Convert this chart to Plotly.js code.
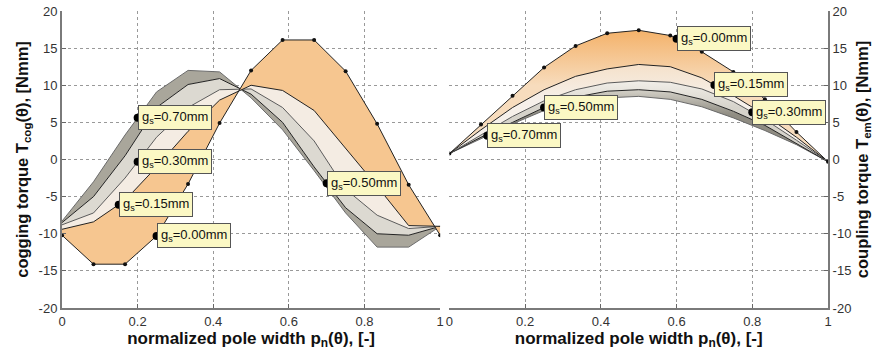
<!DOCTYPE html>
<html>
<head>
<meta charset="utf-8">
<script src="https://cdn.plot.ly/plotly-3.0.1.min.js"></script>
<style>html,body{margin:0;padding:0;background:#fff;}#chart{width:873px;height:354px;}</style>
</head>
<body>
<div id="chart"></div>
<script>
// sample positions (normalized pole width)
const xs = [0, 0.0833, 0.1667, 0.25, 0.3333, 0.4167, 0.5, 0.5833, 0.6667, 0.75, 0.8333, 0.9167, 1];
const gapNames = ['0.70', '0.50', '0.30', '0.15', '0.00'];

// cogging torque [Nmm]
const cog070 = [-8.3, -3.0, 3.3, 9.1, 12.0, 11.8, 8.3, 4.0, -1.5, -7.2, -11.8, -11.8, -9.0];
const cog050 = [-8.5, -5.0, 0.5, 7.0, 10.1, 10.9, 8.8, 5.0, -1.0, -6.5, -10.0, -10.2, -9.0];
const cog030 = [-8.8, -7.2, -2.5, 3.0, 7.0, 9.4, 9.5, 7.0, 2.5, -4.0, -7.5, -9.3, -9.0];
const cog015 = [-9.4, -8.4, -5.5, -1.0, 3.8, 8.0, 10.0, 9.3, 6.6, 1.5, -3.6, -8.9, -9.0];
const cog000 = [-10.2, -14.1, -14.1, -10.3, -3.3, 4.9, 12.0, 16.1, 16.1, 11.9, 4.8, -3.4, -10.2];

// coupling torque [Nmm]
const em070 = [0.8, 2.8, 4.8, 6.6, 7.8, 8.3, 8.5, 8.1, 7.1, 5.6, 3.9, 2.0, -0.3];
const em050 = [0.8, 3.0, 5.0, 7.0, 8.4, 9.2, 9.4, 9.1, 8.1, 6.5, 4.6, 2.2, -0.3];
const em030 = [0.8, 3.3, 5.8, 7.9, 9.4, 10.3, 10.6, 10.4, 9.5, 7.8, 5.4, 2.6, -0.3];
const em015 = [0.8, 4.0, 7.0, 9.4, 11.2, 12.2, 12.8, 12.5, 11.0, 8.6, 6.0, 3.0, -0.3];
const em000 = [0.8, 4.7, 8.6, 12.4, 15.3, 17.0, 17.4, 16.7, 14.5, 11.8, 8.1, 3.7, -0.3];

// data-tip positions (x) for each gap, order as gapNames
const cogTipX = [0.2, 0.7, 0.2, 0.15, 0.25];
const emTipX = [0.1, 0.25, 0.8, 0.7, 0.6];

const xTickVals = [0, 0.2, 0.4, 0.6, 0.8, 1];
const xTickText = ['0', '0.2', '0.4', '0.6', '0.8', '1'];
const yTickVals = [-20, -15, -10, -5, 0, 5, 10, 15, 20];
const yTickText = ['-20', '-15', '-10', '-5', '0', '5', '10', '15', '20'];

const FONT = 'Liberation Sans, Arial, sans-serif';
const lineColors = ['#6a6a6a', '#222222', '#5a5a5a', '#222222', '#222222'];
const fillColors = [null, '#a9a69b', '#dcd9d1', '#f4ece3', '#f6c690'];

function interp(xa, ya, x) {
  for (let i = 0; i < xa.length - 1; i++) {
    if (x >= xa[i] && x <= xa[i + 1]) {
      const t = (x - xa[i]) / (xa[i + 1] - xa[i]);
      return ya[i] + t * (ya[i + 1] - ya[i]);
    }
  }
  return ya[ya.length - 1];
}

const traces = [];
const annotations = [];
function addPanel(series, tipX, xa, ya, gradients) {
  series.forEach((ys, i) => {
    const tr = {
      x: xs, y: ys, xaxis: xa, yaxis: ya, type: 'scatter',
      mode: i === 4 ? 'lines+markers' : 'lines',
      line: {color: lineColors[i], width: 1},
      marker: {color: '#111', size: 4},
      showlegend: false, hoverinfo: 'skip'
    };
    if (i > 0) {
      tr.fill = 'tonexty'; tr.fillcolor = fillColors[i];
      if (gradients && gradients[i]) tr.fillgradient = gradients[i];
    }
    traces.push(tr);
  });
  const tx = [], ty = [];
  series.forEach((ys, i) => {
    const yv = interp(xs, ys, tipX[i]);
    tx.push(tipX[i]); ty.push(yv);
    annotations.push({
      x: tipX[i], y: yv, xref: xa, yref: ya, xanchor: 'left', yanchor: 'middle',
      showarrow: false, text: 'g<sub>s</sub>=' + gapNames[i] + 'mm',
      bgcolor: '#fbf8c4', bordercolor: '#555', borderwidth: 1, borderpad: 3,
      font: {family: FONT, size: 13, color: '#111'}
    });
  });
  traces.push({x: tx, y: ty, xaxis: xa, yaxis: ya, type: 'scatter', mode: 'markers',
    marker: {color: '#000', size: 8}, showlegend: false, hoverinfo: 'skip'});
}
addPanel([cog070, cog050, cog030, cog015, cog000], cogTipX, 'x', 'y', null);
addPanel([em070, em050, em030, em015, em000], emTipX, 'x2', 'y2', [
  null,
  {type: 'vertical', start: 6, stop: 9.5, colorscale: [[0, '#8f8c82'], [1, '#d6d3ca']]},
  {type: 'vertical', start: 7, stop: 10.5, colorscale: [[0, '#d6d3cb'], [1, '#f1eee8']]},
  {type: 'vertical', start: 8, stop: 12.5, colorscale: [[0, '#f6f0ea'], [1, '#f5e2cc']]},
  {type: 'vertical', start: 10, stop: 17, colorscale: [[0, '#f7dcbd'], [1, '#f4b46e']]}
]);

const axisCommon = {
  showline: true, linecolor: '#7a7a7a', linewidth: 2, mirror: false,
  ticks: 'inside', ticklen: 4, tickcolor: '#666',
  showgrid: true, gridcolor: '#999', griddash: 'dot', gridwidth: 1,
  zeroline: false, tickfont: {family: FONT, size: 13, color: '#333'}
};
const xTitleFont = {family: FONT, size: 17, color: '#111', weight: 'bold'};
const yTitleFont = {family: FONT, size: 16.5, color: '#111', weight: 'bold'};

const layout = {
  width: 873, height: 354,
  margin: {l: 62, r: 45, t: 11, b: 46},
  paper_bgcolor: '#fff', plot_bgcolor: '#fff',
  showlegend: false,
  xaxis: Object.assign({}, axisCommon, {domain: [0, 0.4937], range: [0, 1], anchor: 'y',
    tickvals: xTickVals, ticktext: xTickText,
    title: {text: 'normalized pole width p<sub>n</sub>(θ), [-]', font: xTitleFont, standoff: 2}}),
  yaxis: Object.assign({}, axisCommon, {range: [-20, 20], anchor: 'x', tickvals: yTickVals, ticktext: yTickText,
    title: {text: 'cogging torque T<sub>cog</sub>(θ), [Nmm]', font: yTitleFont, standoff: 6}}),
  xaxis2: Object.assign({}, axisCommon, {domain: [0.5058, 1], range: [0, 1], anchor: 'y2',
    tickvals: xTickVals, ticktext: xTickText,
    title: {text: 'normalized pole width p<sub>n</sub>(θ), [-]', font: xTitleFont, standoff: 2}}),
  yaxis2: Object.assign({}, axisCommon, {range: [-20, 20], anchor: 'x2', side: 'right', tickvals: yTickVals, ticktext: yTickText,
    title: {text: 'coupling torque T<sub>em</sub>(θ), [Nmm]', font: yTitleFont, standoff: 6}}),
  annotations: annotations
};

Plotly.newPlot('chart', traces, layout, {staticPlot: true, displayModeBar: false});
</script>
</body>
</html>
